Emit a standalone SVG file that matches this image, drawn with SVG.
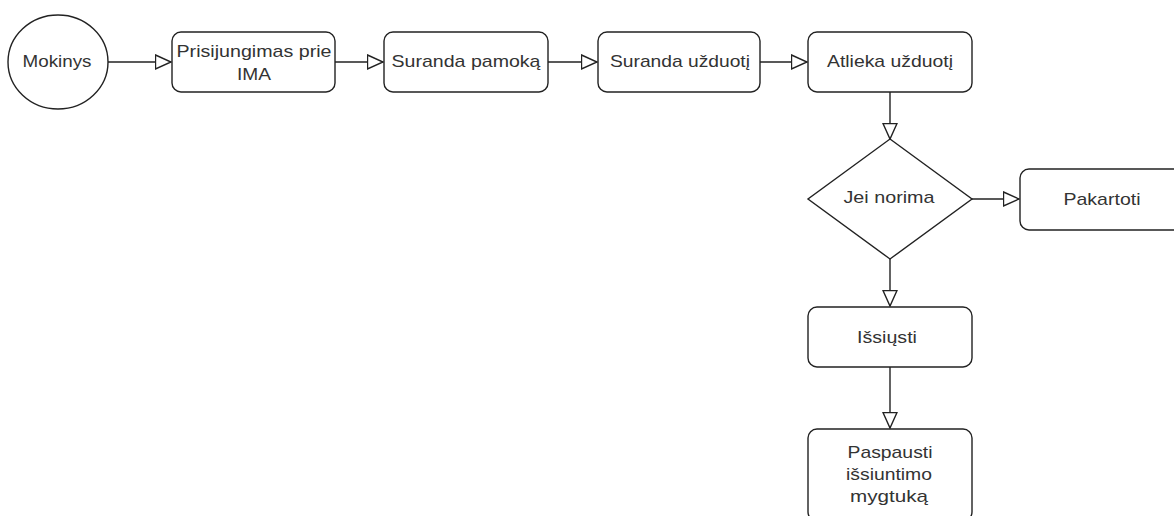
<svg xmlns="http://www.w3.org/2000/svg" width="1174" height="516" viewBox="0 0 1174 516">
<style>
.n{fill:#fff;stroke:#222;stroke-width:1.4}
.t{font-family:"Liberation Sans",Arial,sans-serif;font-size:17px;fill:#333;text-anchor:middle}
.c{fill:none;stroke:#222;stroke-width:1.4}
</style>
<defs>
<marker id="ah" markerUnits="userSpaceOnUse" markerWidth="18" markerHeight="17" refX="16.5" refY="8" orient="auto" viewBox="0 0 18 17">
<path d="M1,1 L16.5,8 L1,15 Z" fill="#fff" stroke="#222" stroke-width="1.4"/>
</marker>
</defs>
<rect width="1174" height="516" fill="#fff"/>
<g id="connectors">
<line class="c" x1="108" y1="62" x2="171" y2="62" marker-end="url(#ah)"/>
<line class="c" x1="335" y1="62" x2="383" y2="62" marker-end="url(#ah)"/>
<line class="c" x1="548" y1="62" x2="597" y2="62" marker-end="url(#ah)"/>
<line class="c" x1="760" y1="62" x2="807" y2="62" marker-end="url(#ah)"/>
<line class="c" x1="890" y1="92" x2="890" y2="139" marker-end="url(#ah)"/>
<line class="c" x1="972" y1="199" x2="1019" y2="199" marker-end="url(#ah)"/>
<line class="c" x1="890" y1="259" x2="890" y2="306" marker-end="url(#ah)"/>
<line class="c" x1="890" y1="367" x2="890" y2="428" marker-end="url(#ah)"/>
</g>
<g id="mokinys">
<ellipse class="n" cx="58" cy="62" rx="50" ry="47"/>
<text class="t" x="57" y="67" textLength="69" lengthAdjust="spacingAndGlyphs">Mokinys</text>
</g>
<g id="prisijungimas">
<rect class="n" x="172" y="32" width="163" height="60" rx="9"/>
<text class="t" x="254" y="57" textLength="155" lengthAdjust="spacingAndGlyphs">Prisijungimas prie</text>
<text class="t" x="254" y="80" textLength="34" lengthAdjust="spacingAndGlyphs">IMA</text>
</g>
<g id="suranda-pamoka">
<rect class="n" x="384" y="32" width="164" height="60" rx="9"/>
<text class="t" x="466" y="67" textLength="149" lengthAdjust="spacingAndGlyphs">Suranda pamoką</text>
</g>
<g id="suranda-uzduoti">
<rect class="n" x="598" y="32" width="162" height="60" rx="9"/>
<text class="t" x="680" y="67" textLength="140" lengthAdjust="spacingAndGlyphs">Suranda užduotį</text>
</g>
<g id="atlieka-uzduoti">
<rect class="n" x="808" y="32" width="164" height="60" rx="9"/>
<text class="t" x="890" y="67" textLength="126" lengthAdjust="spacingAndGlyphs">Atlieka užduotį</text>
</g>
<g id="jei-norima">
<polygon class="n" points="890,139 972,199 890,259 808,199"/>
<text class="t" x="889" y="203" textLength="91" lengthAdjust="spacingAndGlyphs">Jei norima</text>
</g>
<g id="pakartoti">
<rect class="n" x="1020" y="169" width="164" height="61" rx="9"/>
<text class="t" x="1102" y="205" textLength="77" lengthAdjust="spacingAndGlyphs">Pakartoti</text>
</g>
<g id="issiusti">
<rect class="n" x="808" y="307" width="164" height="60" rx="9"/>
<text class="t" x="887" y="343" textLength="60" lengthAdjust="spacingAndGlyphs">Išsiųsti</text>
</g>
<g id="paspausti">
<rect class="n" x="808" y="429" width="164" height="92" rx="9"/>
<text class="t" x="890" y="458" textLength="85" lengthAdjust="spacingAndGlyphs">Paspausti</text>
<text class="t" x="889" y="480" textLength="86" lengthAdjust="spacingAndGlyphs">išsiuntimo</text>
<text class="t" x="889" y="502" textLength="78" lengthAdjust="spacingAndGlyphs">mygtuką</text>
</g>
</svg>
